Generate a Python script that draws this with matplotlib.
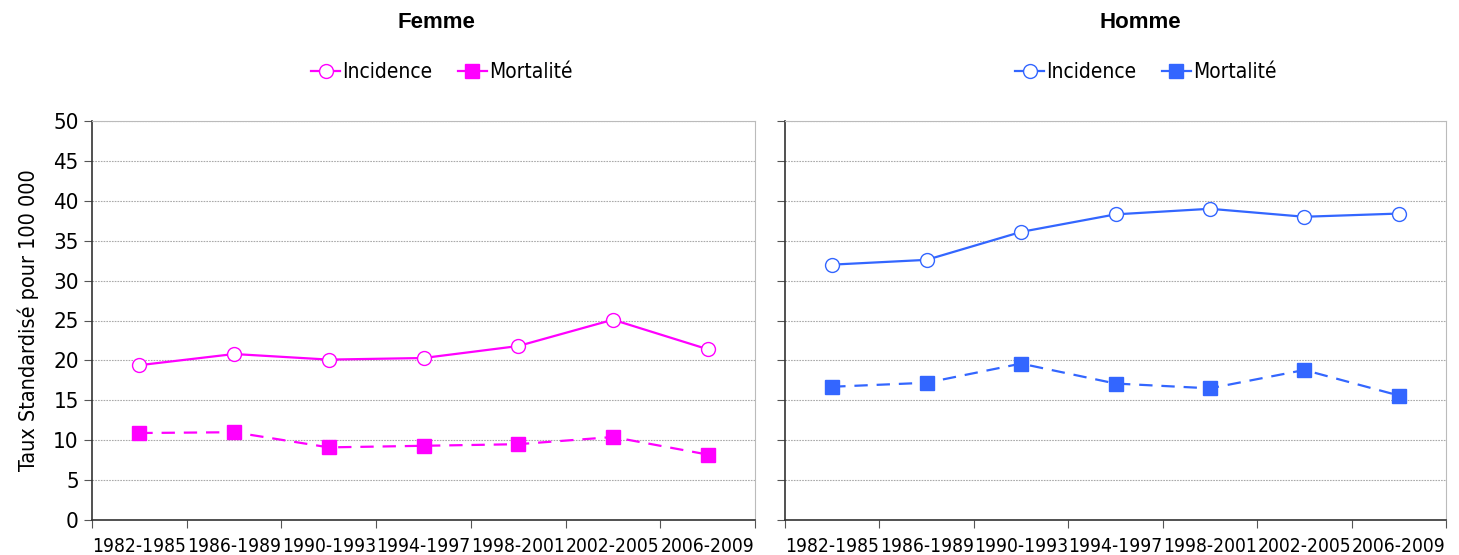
import numpy as np
import matplotlib
matplotlib.use('Agg')
import matplotlib.pyplot as plt
from matplotlib.lines import Line2D

periodes = ['1982-1985', '1986-1989', '1990-1993', '1994-1997',
            '1998-2001', '2002-2005', '2006-2009']

femme_incidence = [19.4, 20.8, 20.1, 20.3, 21.8, 25.1, 21.4]
femme_mortalite = [10.9, 11.0, 9.1, 9.3, 9.5, 10.4, 8.2]
homme_incidence = [32.0, 32.6, 36.1, 38.3, 39.0, 38.0, 38.4]
homme_mortalite = [16.7, 17.2, 19.6, 17.1, 16.5, 18.8, 15.6]

plt.rcParams['font.family'] = ['DejaVu Sans']
plt.rcParams['font.stretch'] = 'condensed'

fig = plt.figure(figsize=(14.59, 5.55), dpi=100)
W, H = 1459, 555

def make_ax(x0, x1, y0=121, y1=520):
    return fig.add_axes([x0 / W, 1 - y1 / H, (x1 - x0) / W, (y1 - y0) / H])

def draw(ax, inc, mort, color, labels):
    x = np.arange(len(periodes)) + 0.5
    ax.plot(x, inc, '-', color=color, lw=1.6, marker='o', ms=10,
            mfc='white', mec=color, mew=1.0, zorder=3)
    ax.plot(x, mort, '--', color=color, lw=1.6, dashes=(6, 4), marker='s',
            ms=10, mfc=color, mec=color, zorder=3)
    ax.set_xlim(0, 7)
    ax.set_ylim(0, 50)
    ax.set_yticks(np.arange(0, 51, 5))
    ax.yaxis.grid(True, color='#aaaaaa', ls=(0, (1.5, 1)), lw=0.8)
    ax.set_axisbelow(True)
    ax.set_xticks(np.arange(0, 8))
    ax.set_xticklabels([])
    ax.set_xticks(x, minor=True)
    ax.set_xticklabels(periodes, minor=True, fontsize=13.8)
    ax.tick_params(axis='x', which='minor', length=0, pad=12)
    ax.tick_params(axis='x', which='major', length=6, color='#555555')
    ax.tick_params(axis='y', length=6, color='#555555', labelsize=16)
    if not labels:
        ax.set_yticklabels([])
    for s in ['top', 'right']:
        ax.spines[s].set_color('#bbbbbb')
    for s in ['left', 'bottom']:
        ax.spines[s].set_color('#333333')
        ax.spines[s].set_linewidth(1.2)

axL = make_ax(92, 755)
draw(axL, femme_incidence, femme_mortalite, '#FF00FF', True)
axL.set_ylabel('Taux Standardisé pour 100 000', fontsize=15.5, labelpad=10)

axR = make_ax(785, 1446)
draw(axR, homme_incidence, homme_mortalite, '#3366FF', False)

for title, cx, color in [('Femme', 436, '#FF00FF'), ('Homme', 1140, '#3366FF')]:
    fig.text(cx / W, 1 - 22 / H, title, ha='center', va='center',
             fontsize=16, fontweight='bold', family='Liberation Sans',
             fontstretch='normal')
    handles = [
        Line2D([], [], color=color, lw=1.6, marker='o', ms=10, mfc='white', mec=color),
        Line2D([], [], color=color, lw=1.6, marker='s', ms=10, mfc=color, mec=color),
    ]
    fig.legend(handles, ['Incidence', 'Mortalité'], loc='center',
               bbox_to_anchor=(cx / W + 0.004, 1 - 72 / H), ncol=2,
               frameon=False, fontsize=15, handlelength=1.4,
               handletextpad=0.1, columnspacing=1.2)

fig.savefig('out.png', dpi=100)
